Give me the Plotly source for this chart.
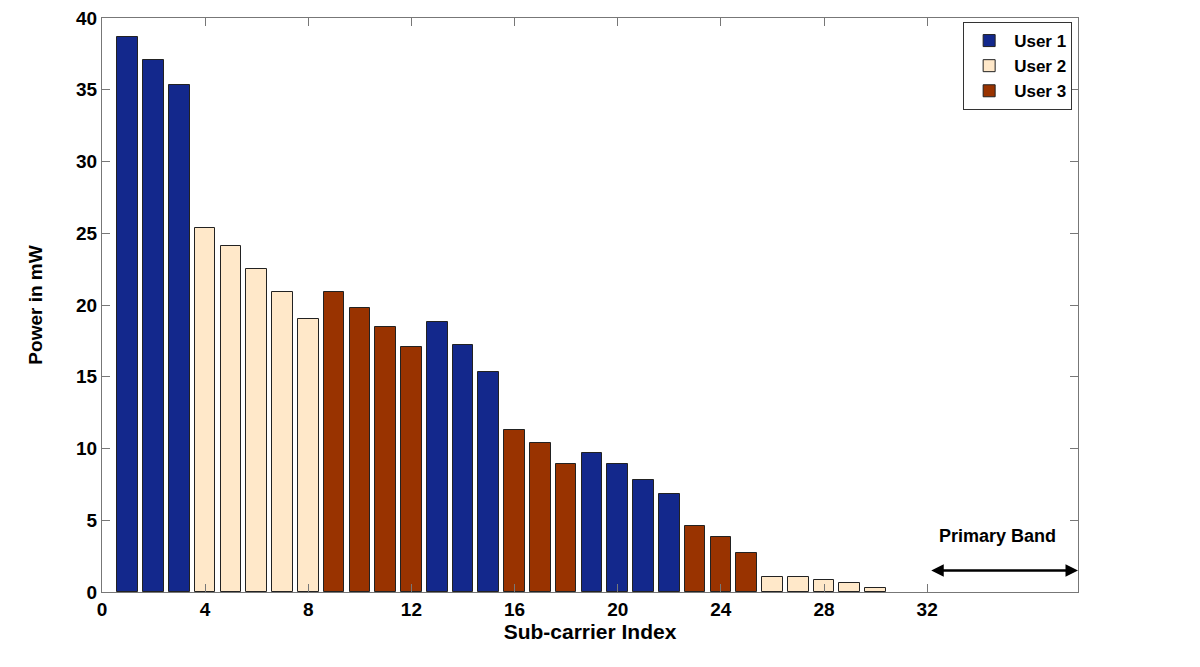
import plotly.graph_objects as go

# sub-carrier index, allocated power (mW) and owning user
subcarriers = list(range(1, 31))
power_mw = [38.7, 37.1, 35.3, 25.4, 24.1, 22.5, 20.9, 19.0, 20.9, 19.8,
            18.5, 17.05, 18.85, 17.2, 15.3, 11.3, 10.4, 8.9, 9.7, 8.9,
            7.8, 6.8, 4.6, 3.8, 2.7, 1.05, 1.07, 0.87, 0.6, 0.3]
owner = [1, 1, 1, 2, 2, 2, 2, 2, 3, 3,
         3, 3, 1, 1, 1, 3, 3, 3, 1, 1,
         1, 1, 3, 3, 3, 2, 2, 2, 2, 2]

users = ["User 1", "User 2", "User 3"]
user_colors = ["#13288c", "#ffe8c9", "#993300"]

x_ticks = [0, 4, 8, 12, 16, 20, 24, 28, 32]
y_ticks = [0, 5, 10, 15, 20, 25, 30, 35, 40]

# primary band spans from index 32 to the right edge
band_start = 32
band_end = 37.85
band_arrow_y = 1.5
band_label_y = 3.9

fig = go.Figure()

for k, (name, color) in enumerate(zip(users, user_colors), start=1):
    xs = [s for s, u in zip(subcarriers, owner) if u == k]
    ys = [p for p, u in zip(power_mw, owner) if u == k]
    fig.add_trace(go.Bar(
        x=xs, y=ys, name=name, width=0.8,
        marker=dict(color=color, line=dict(color="#222222", width=1)),
    ))

fig.add_annotation(
    x=band_end, y=band_arrow_y, ax=band_start + 0.1, ay=band_arrow_y,
    xref="x", yref="y", axref="x", ayref="y",
    text="", showarrow=True, arrowhead=2, arrowside="end+start",
    arrowsize=1, arrowwidth=2.5, arrowcolor="black",
)
fig.add_annotation(
    x=(band_start + band_end) / 2 - 0.2, y=band_label_y, xref="x", yref="y",
    text="<b>Primary Band</b>", showarrow=False,
    font=dict(size=18, color="black", family="Liberation Sans"),
)

axis_font = dict(size=19, color="black", family="Liberation Sans", weight="bold")

fig.update_xaxes(
    range=[0, band_end], tickvals=x_ticks, ticks="inside", ticklen=8,
    tickcolor="#777777", linecolor="#777777", linewidth=1, mirror="ticks",
    showline=True, showgrid=False, zeroline=False, tickfont=axis_font,
    automargin=False, ticklabeloverflow="allow",
    title=dict(text="Sub-carrier Index", standoff=4,
               font=dict(size=21, color="black", family="Liberation Sans", weight="bold")),
)
fig.update_yaxes(
    range=[0, 40], tickvals=y_ticks, ticks="inside", ticklen=8,
    tickcolor="#777777", linecolor="#777777", linewidth=1, mirror="ticks",
    showline=True, showgrid=False, zeroline=False, tickfont=axis_font,
    automargin=False, ticklabeloverflow="allow",
    title=dict(text="Power in mW", standoff=28,
               font=dict(size=19, color="black", family="Liberation Sans", weight="bold")),
)

fig.update_layout(
    width=1200, height=667, plot_bgcolor="white", paper_bgcolor="white",
    margin=dict(l=94, r=130, t=10, b=83),
    barmode="overlay", bargap=0,
    legend=dict(
        x=0.994, y=0.993, xanchor="right", yanchor="top",
        bordercolor="#333333", borderwidth=1, bgcolor="white",
        font=dict(size=17, color="black", family="Liberation Sans", weight="bold"),
        tracegroupgap=0, itemwidth=40,
    ),
)

fig.write_html("out.html")
